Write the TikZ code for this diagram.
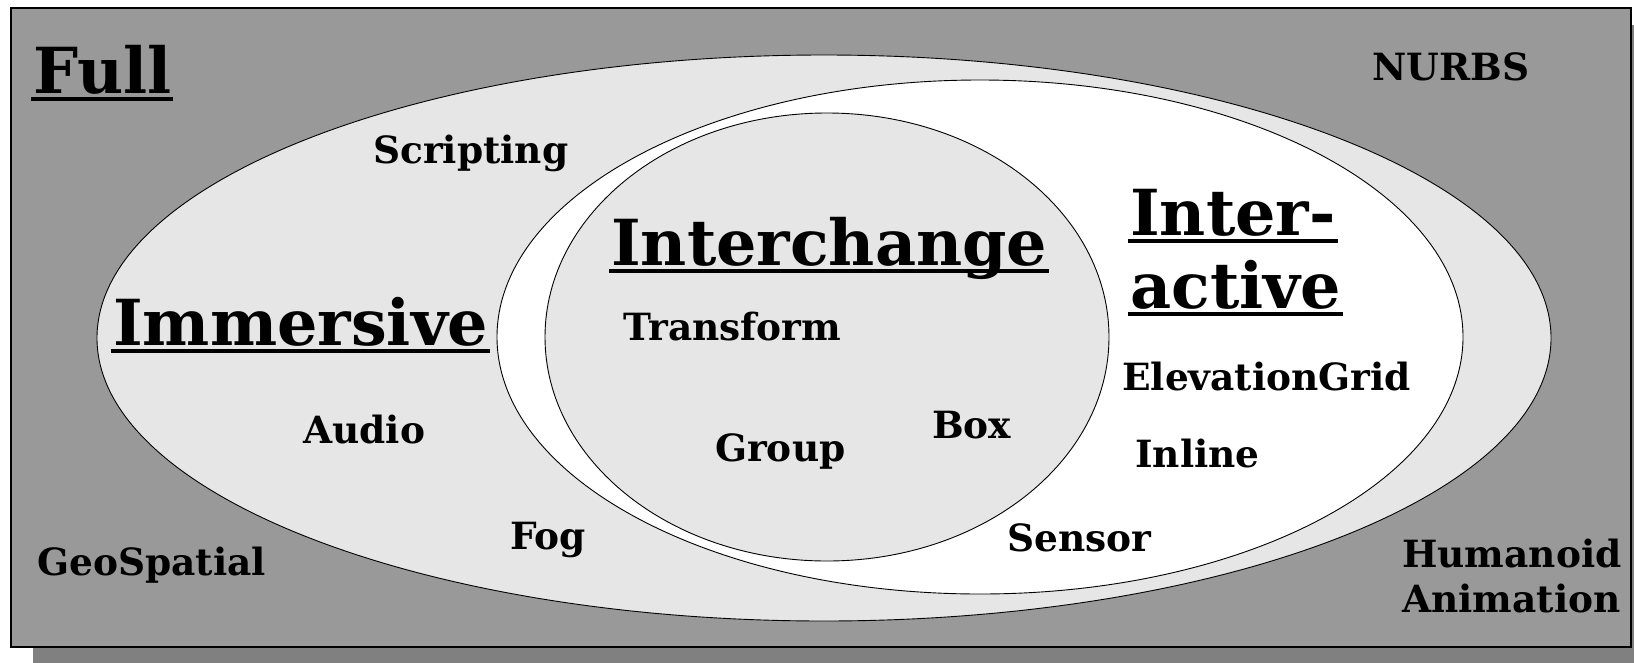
\documentclass[tikz,border=0pt]{standalone}
\usepackage{fontspec}
\setmainfont{DejaVu Serif}
\usetikzlibrary{shapes}
\definecolor{my_bg}{RGB}{153, 153, 153}
\definecolor{my_shadow}{RGB}{128, 128, 128}
\definecolor{my_lightgray}{RGB}{230, 230, 230}
% thick underline that scales with the font
\newcommand{\ulabel}[1]{\setbox0=\hbox{#1}\rlap{\kern-0.03em\rule[-0.13em]{\dimexpr\wd0+0.06em\relax}{0.065em}}\box0}
\tikzset {
  profile/.style = {draw, ellipse, line width=0.9pt, inner sep=0},
  small/.style = {anchor=base west, inner sep=0, font=\fontsize{37.5}{45}\selectfont\bfseries},
  big/.style = {anchor=base west, inner sep=0, font=\fontsize{63.5}{75}\selectfont\bfseries},
}

\begin{document}
\begin{tikzpicture}[x=1pt, y=-1pt]
    \useasboundingbox (0,0) rectangle (1634,662);

    % background with shadow
    \fill[my_shadow] (33,25) rectangle (1660,670);
    \draw[line width=1.5pt, fill=my_bg] (11,8) rectangle (1631,647);

    \node[profile, fill=my_lightgray, minimum width=1454pt, minimum height=566pt] (immersive) at (824,338) {};
    \node[profile, fill=white, minimum width=966pt, minimum height=514pt] (interactive) at (980,337) {};
    \node[profile, fill=my_lightgray, minimum width=564pt, minimum height=448pt] (interchange) at (827,337) {};

    \node[big] (fulltitle) at (33,93) {\ulabel{Full}};
    \node[big] (immersivetitle) at (113,345) {\ulabel{Immersive}};
    \node[big] (interchangetitle) at (611,265) {\ulabel{Interchange}};
    \node[big] (intertitle) at (1130,235) {\ulabel{Inter-}};
    \node[big] (activetitle) at (1130,308) {\ulabel{active}};

    \node[small] (nurbs) at (1372,80) {NURBS};
    \node[small] (scripting) at (373,163) {Scripting};
    \node[small] (transform) at (623,340) {Transform};
    \node[small] (elevgrid) at (1122,390) {ElevationGrid};
    \node[small] (audio) at (303,443) {Audio};
    \node[small] (box) at (932,438) {Box};
    \node[small] (group) at (715,461) {Group};
    \node[small] (inline) at (1135,467) {Inline};
    \node[small] (fog) at (510,549) {Fog};
    \node[small] (sensor) at (1007,551) {Sensor};
    \node[small] (geospatial) at (37,575) {GeoSpatial};
    \node[small] (humanoid) at (1402,567) {Humanoid};
    \node[small] (animation) at (1402,612) {Animation};

\end{tikzpicture}
\end{document}
